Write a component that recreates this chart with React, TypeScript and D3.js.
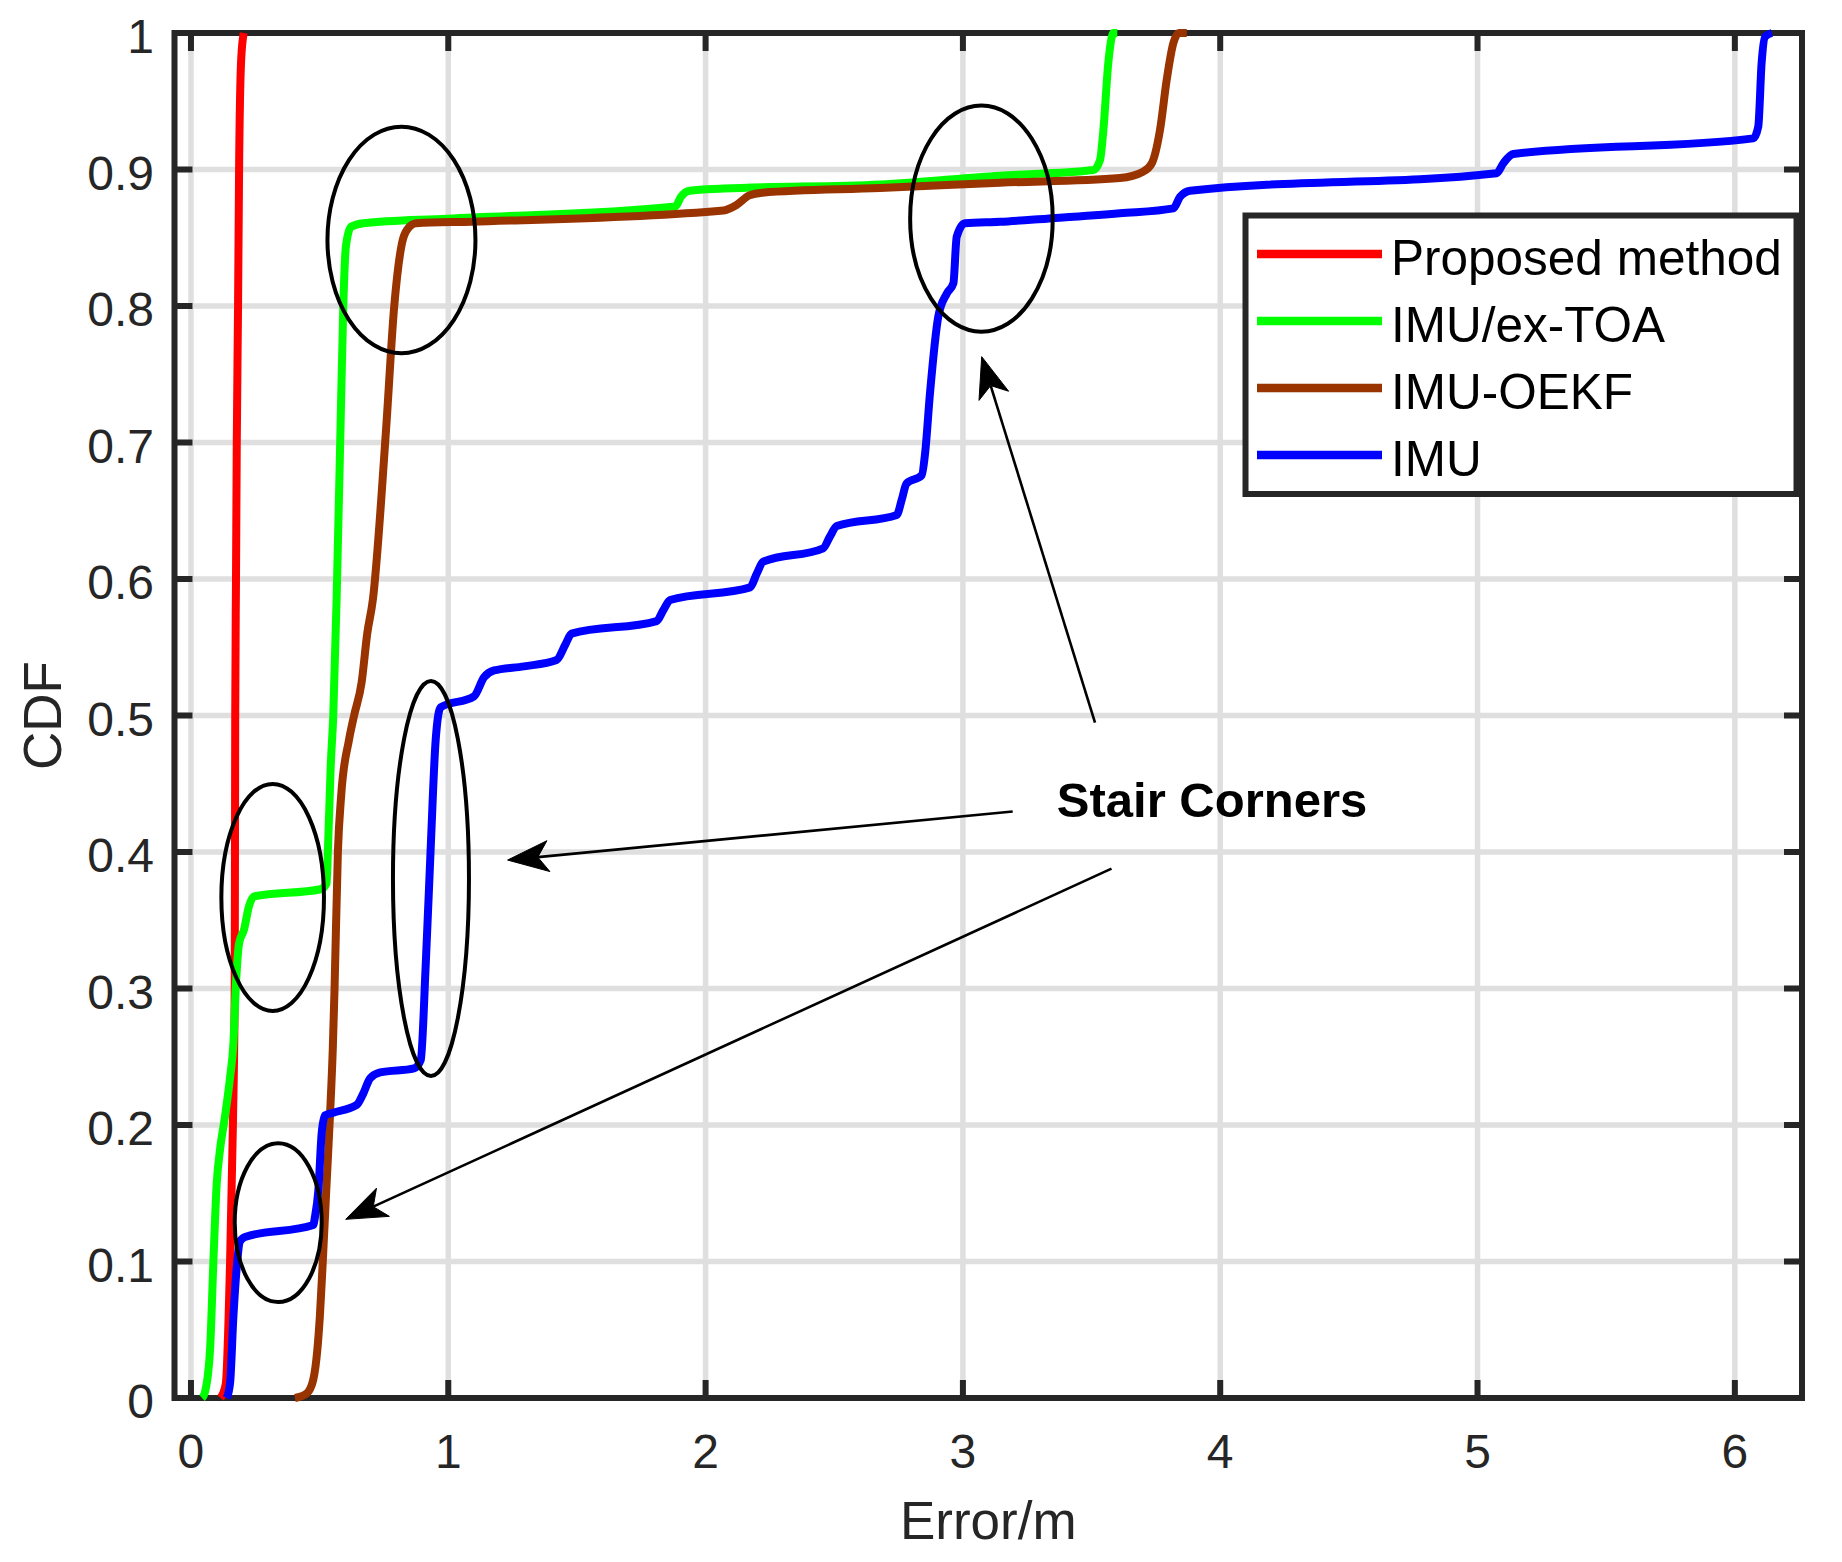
import React from 'react';
import * as d3 from 'd3';

// ---------- data ----------
const xTicks = [0, 1, 2, 3, 4, 5, 6];
const xTickLabels = ['0', '1', '2', '3', '4', '5', '6'];
const yTicks = [0, 0.1, 0.2, 0.3, 0.4, 0.5, 0.6, 0.7, 0.8, 0.9, 1];
const yTickLabels = ['0', '0.1', '0.2', '0.3', '0.4', '0.5', '0.6', '0.7', '0.8', '0.9', '1'];

const seriesNames = ['Proposed method', 'IMU/ex-TOA', 'IMU-OEKF', 'IMU'];
const seriesColors = ['#ff0000', '#00ff00', '#993300', '#0000ff'];

const proposedX = [0.115, 0.135, 0.152, 0.163, 0.170, 0.172, 0.175, 0.178, 0.183, 0.187, 0.195, 0.205];
const proposedY = [0, 0.01, 0.1, 0.2, 0.3, 0.5, 0.6, 0.7, 0.8, 0.9, 0.98, 1.0];

const toaX = [0.043, 0.054, 0.074, 0.087, 0.100, 0.113, 0.132, 0.152, 0.165, 0.174, 0.187, 0.206, 0.225, 0.245, 0.504, 0.527, 0.532, 0.543, 0.553, 0.566, 0.581, 0.592, 0.602, 0.622, 0.67, 0.997, 1.883, 1.904, 1.938, 2.07, 2.678, 3.144, 3.507, 3.533, 3.546, 3.565, 3.585, 3.60];
const toaY = [0, 0.004, 0.035, 0.099, 0.157, 0.182, 0.206, 0.235, 0.26, 0.30, 0.333, 0.343, 0.36, 0.3675, 0.3727, 0.377, 0.40, 0.4625, 0.50, 0.585, 0.709, 0.80, 0.8434, 0.858, 0.8606, 0.864, 0.873, 0.880, 0.8845, 0.886, 0.889, 0.8955, 0.8996, 0.907, 0.929, 0.978, 1.0, 1.0];

const oekfX = [0.404, 0.45, 0.475, 0.491, 0.501, 0.512, 0.527, 0.540, 0.551, 0.558, 0.571, 0.584, 0.614, 0.634, 0.663, 0.685, 0.707, 0.758, 0.79, 0.82, 0.84, 0.875, 1.092, 2.07, 2.12, 2.17, 2.22, 2.678, 3.144, 3.61, 3.70, 3.734, 3.766, 3.792, 3.818, 3.84, 3.87];
const oekfY = [0, 0.0034, 0.0132, 0.035, 0.06, 0.099, 0.157, 0.206, 0.255, 0.30, 0.40, 0.442, 0.482, 0.50, 0.524, 0.560, 0.585, 0.709, 0.80, 0.846, 0.856, 0.8606, 0.8618, 0.870, 0.874, 0.881, 0.883, 0.8864, 0.8903, 0.8938, 0.8984, 0.9045, 0.929, 0.9656, 0.9927, 1.0, 1.0];

const imuX = [0.139, 0.152, 0.165, 0.178, 0.19, 0.21, 0.475, 0.482, 0.495, 0.508, 0.521, 0.553, 0.644, 0.67, 0.696, 0.735, 0.867, 0.893, 0.912, 0.931, 0.951, 0.970, 1.10, 1.139, 1.178, 1.294, 1.421, 1.454, 1.479, 1.81, 1.836, 1.862, 2.173, 2.199, 2.224, 2.457, 2.483, 2.51, 2.743, 2.762, 2.781, 2.84, 2.853, 2.872, 2.904, 2.937, 2.963, 2.976, 3.008, 3.144, 3.326, 3.61, 3.818, 3.844, 3.883, 5.074, 5.1, 5.139, 6.072, 6.091, 6.104, 6.118, 6.144];
const imuY = [0, 0.011, 0.06, 0.096, 0.1145, 0.118, 0.1267, 0.1328, 0.152, 0.194, 0.207, 0.209, 0.2147, 0.2232, 0.2342, 0.2385, 0.2415, 0.2476, 0.316, 0.40, 0.482, 0.506, 0.514, 0.528, 0.533, 0.536, 0.5407, 0.5516, 0.560, 0.5692, 0.5773, 0.5846, 0.5939, 0.604, 0.6127, 0.6225, 0.631, 0.6388, 0.6469, 0.6579, 0.670, 0.676, 0.692, 0.736, 0.792, 0.809, 0.8167, 0.8508, 0.8606, 0.8617, 0.864, 0.8679, 0.8715, 0.880, 0.8845, 0.8972, 0.9045, 0.9113, 0.9228, 0.9314, 0.9778, 0.9973, 1.0];

const seriesX = [proposedX, toaX, oekfX, imuX];
const seriesY = [proposedY, toaY, oekfY, imuY];

// annotation ellipses (data units)
const ellipseCx = [0.818, 3.072, 0.3175, 0.9327, 0.339];
const ellipseCy = [0.8484, 0.864, 0.3667, 0.3806, 0.1285];
const ellipseRx = [0.2876, 0.277, 0.1994, 0.1477, 0.169];
const ellipseRy = [0.083, 0.0828, 0.0832, 0.1447, 0.0582];

// annotation arrows (data units): tail -> tip
const arrowTailX = [3.1935, 3.5775, 3.5134];
const arrowTailY = [0.4297, 0.3878, 0.4947];
const arrowTipX = [1.2305, 0.6012, 3.073];
const arrowTipY = [0.3941, 0.1309, 0.7629];

const annotationText = 'Stair Corners';
const annotationTextX = 3.365;
const annotationTextY = 0.4256;

const xLabel = 'Error/m';
const yLabel = 'CDF';

// ---------- layout ----------
const W = 1842;
const H = 1562;
const L = 174.5;
const R = 1802;
const T = 33;
const B = 1398;
const FONT = '"Liberation Sans", Arial, Helvetica, sans-serif';
const AX = '#262626';

export default function App() {
  const x = d3.scaleLinear().domain([-0.064, 6.261]).range([L, R]);
  const y = d3.scaleLinear().domain([0, 1]).range([B, T]);

  const line = d3
    .line<[number, number]>()
    .x((d) => x(d[0]))
    .y((d) => y(d[1]))
    .curve(d3.curveMonotoneX);

  const tickLen = 18;

  const arrows = arrowTailX.map((_, i) => {
    const x1 = x(arrowTailX[i]);
    const y1 = y(arrowTailY[i]);
    const x2 = x(arrowTipX[i]);
    const y2 = y(arrowTipY[i]);
    const dx = x2 - x1;
    const dy = y2 - y1;
    const len = Math.hypot(dx, dy);
    const ux = dx / len;
    const uy = dy / len;
    const px = -uy;
    const py = ux;
    const hl = 41;
    const hw = 15.5;
    const bx = x2 - ux * hl;
    const by = y2 - uy * hl;
    const nx = x2 - ux * hl * 0.74;
    const ny = y2 - uy * hl * 0.74;
    const head = `M${x2},${y2} L${bx + px * hw},${by + py * hw} L${nx},${ny} L${bx - px * hw},${by - py * hw} Z`;
    return { x1, y1, nx, ny, head };
  });

  const legX = 1245.5;
  const legY = 215.5;
  const legW = 551;
  const legH = 278.5;
  const legRowY = [254, 321, 388, 455];

  return (
    <svg
      width={W}
      height={H}
      style={{ position: 'absolute', left: 0, top: 0, background: '#fff' }}
      fontFamily={FONT}
    >
      <rect x={0} y={0} width={W} height={H} fill="#ffffff" />
      {/* grid */}
      <g stroke="#dfdfdf" strokeWidth={5.5}>
        {xTicks.map((t) => (
          <line key={'gx' + t} x1={x(t)} x2={x(t)} y1={T} y2={B} />
        ))}
        {yTicks.map((t) => (
          <line key={'gy' + t} x1={L} x2={R} y1={y(t)} y2={y(t)} />
        ))}
      </g>
      {/* axes box and ticks */}
      <g stroke={AX} strokeWidth={6} fill="none">
        <rect x={L} y={T} width={R - L} height={B - T} strokeLinejoin="miter" />
        {xTicks.map((t) => (
          <g key={'tx' + t}>
            <line x1={x(t)} x2={x(t)} y1={B} y2={B - tickLen} />
            <line x1={x(t)} x2={x(t)} y1={T} y2={T + tickLen} />
          </g>
        ))}
        {yTicks.map((t) => (
          <g key={'ty' + t}>
            <line x1={L} x2={L + tickLen} y1={y(t)} y2={y(t)} />
            <line x1={R} x2={R - tickLen} y1={y(t)} y2={y(t)} />
          </g>
        ))}
      </g>
      {/* tick labels */}
      <g fill={AX} fontSize={48}>
        {xTicks.map((t, i) => (
          <text key={'lx' + t} x={x(t)} y={B + 70} textAnchor="middle">
            {xTickLabels[i]}
          </text>
        ))}
        {yTicks.map((t, i) => (
          <text key={'ly' + t} x={154} y={y(t) + 20} textAnchor="end">
            {yTickLabels[i]}
          </text>
        ))}
      </g>
      {/* axis labels */}
      <text x={(L + R) / 2} y={1539} textAnchor="middle" fontSize={53} fill={AX}>
        {xLabel}
      </text>
      <text
        transform={`translate(61,${(T + B) / 2}) rotate(-90)`}
        textAnchor="middle"
        fontSize={53}
        fill={AX}
      >
        {yLabel}
      </text>
      {/* data */}
      <g fill="none" strokeWidth={8} strokeLinejoin="round" strokeLinecap="butt">
        {seriesX.map((xs, si) => {
          const pts: [number, number][] = xs.map((v, j) => [v, seriesY[si][j]]);
          return <path key={'s' + si} d={line(pts) || ''} stroke={seriesColors[si]} />;
        })}
      </g>
      {/* annotations */}
      <g fill="none" stroke="#000" strokeWidth={4}>
        {ellipseCx.map((cx, i) => (
          <ellipse
            key={'e' + i}
            cx={x(cx)}
            cy={y(ellipseCy[i])}
            rx={x(cx + ellipseRx[i]) - x(cx)}
            ry={y(ellipseCy[i] - ellipseRy[i]) - y(ellipseCy[i])}
          />
        ))}
      </g>
      <g>
        {arrows.map((a, i) => (
          <g key={'a' + i}>
            <line x1={a.x1} y1={a.y1} x2={a.nx} y2={a.ny} stroke="#000" strokeWidth={2.6} />
            <path d={a.head} fill="#000" stroke="#000" strokeWidth={1} strokeLinejoin="miter" />
          </g>
        ))}
      </g>
      <text
        x={x(annotationTextX)}
        y={y(annotationTextY)}
        fontSize={49}
        fontWeight="bold"
        fill="#000"
      >
        {annotationText}
      </text>
      {/* legend */}
      <g>
        <rect x={legX} y={legY} width={legW} height={legH} fill="#fff" stroke={AX} strokeWidth={6} />
        {seriesNames.map((name, i) => (
          <g key={'lg' + i}>
            <line x1={1257} x2={1382} y1={legRowY[i]} y2={legRowY[i]} stroke={seriesColors[i]} strokeWidth={8.5} />
            <text x={1391} y={legRowY[i] + 21} fontSize={49.5} fill="#000">
              {name}
            </text>
          </g>
        ))}
      </g>
    </svg>
  );
}
